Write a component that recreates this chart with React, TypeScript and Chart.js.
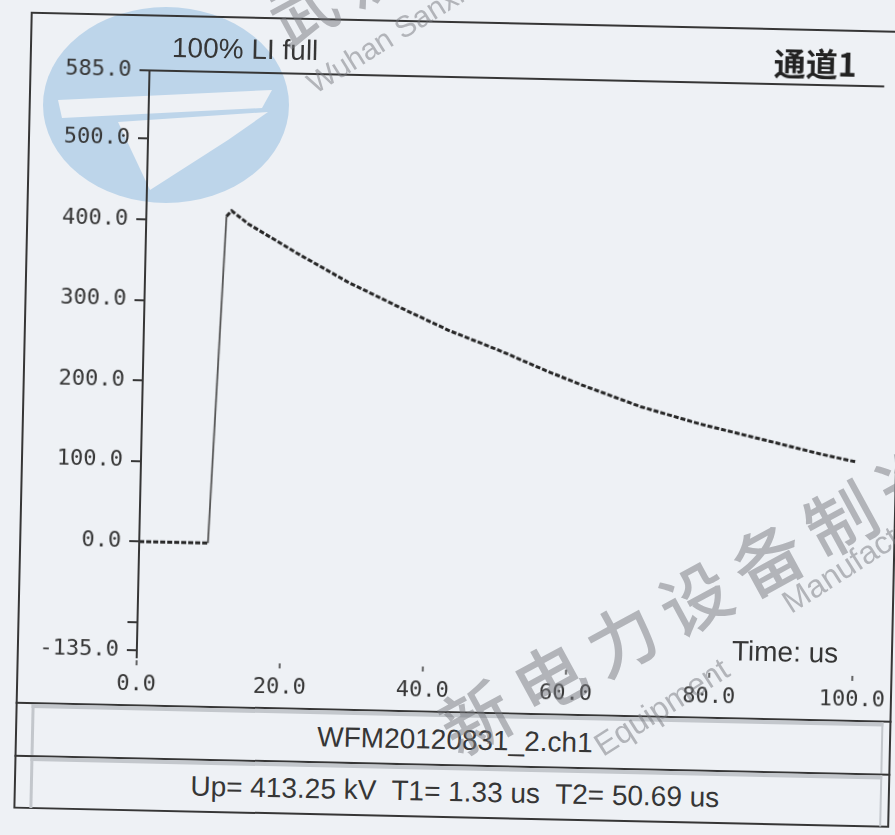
import { useEffect, useRef } from 'react';
import Chart from 'chart.js/auto';

// ── Data ──

const timeUs = [0, 9.6, 11.2, 11.9, 14.3, 21.4, 28.5, 35.6, 42.7, 49.7, 56.3, 61.1, 69.6, 78.0, 86.5, 94.9, 100];
const voltageKv = [0, 0, 406, 413, 397, 361, 327, 298, 270, 247, 223, 207, 181, 161, 144, 127, 118];

const yTicks = [585, 500, 400, 300, 200, 100, 0, -100, -135];
const yUnlabeled = [-100];
const xTicks = [0, 20, 40, 60, 80, 100];

const titleText = '100% LI full';
const channelText = '通道1';
const axisText = 'Time: us';
const fileText = 'WFM20120831_2.ch1';
const summaryText = 'Up= 413.25 kV  T1= 1.33 us  T2= 50.69 us';

const INK = '#363636';
const PAPER = '#eef1f5';
const SANS = '"Liberation Sans", Arial, sans-serif';
const MONO = '"DejaVu Sans Mono", monospace';
const CJK = '"Noto Sans CJK SC", sans-serif';

// ── Axis frame: top rule, extended y axis, short x tick marks ──

const framePlugin = {
  id: 'frame',
  afterDraw(chart: any) {
    const { ctx, chartArea: a, scales } = chart;
    ctx.save();
    ctx.strokeStyle = INK;
    ctx.lineWidth = 2;
    ctx.beginPath();
    ctx.moveTo(a.left, a.top);
    ctx.lineTo(a.right + 19, a.top);
    ctx.moveTo(a.left, a.top);
    ctx.lineTo(a.left, a.bottom + 8);
    ctx.stroke();
    ctx.lineWidth = 1.5;
    ctx.beginPath();
    xTicks.forEach((v) => {
      const px = scales.x.getPixelForValue(v);
      ctx.moveTo(px, a.bottom + 10);
      ctx.lineTo(px, a.bottom + 15);
    });
    ctx.stroke();
    ctx.restore();
  },
};

function ImpulseChart() {
  const canvasRef = useRef<HTMLCanvasElement>(null);

  useEffect(() => {
    if (!canvasRef.current) return;
    const isRise = (c: any) => c.p1.parsed.y - c.p0.parsed.y > 50;

    const chart = new Chart(canvasRef.current, {
      type: 'line',
      data: {
        datasets: [{
          data: timeUs.map((t, i) => ({ x: t, y: voltageKv[i] })),
          borderColor: '#262626',
          borderWidth: 3,
          pointRadius: 0,
          fill: false,
          tension: 0,
          segment: {
            borderDash: (c: any) => (isRise(c) ? [] : [5, 2]),
            borderWidth: (c: any) => (isRise(c) ? 1.8 : 3),
            borderColor: (c: any) => (isRise(c) ? '#555' : '#262626'),
          },
        }],
      },
      options: {
        animation: false,
        responsive: true,
        maintainAspectRatio: false,
        layout: { padding: { top: 77, right: 0, left: 0, bottom: 0 } },
        plugins: { legend: { display: false }, tooltip: { enabled: false } },
        scales: {
          x: {
            type: 'linear',
            min: 0,
            max: 100,
            afterBuildTicks: (s: any) => { s.ticks = xTicks.map((v) => ({ value: v })); },
            afterFit: (s: any) => { s.height = 54; },
            ticks: {
              callback: (v: any) => Number(v).toFixed(1),
              font: { family: MONO, size: 22 },
              color: INK,
              padding: 21,
              maxRotation: 0,
              autoSkip: false,
            },
            grid: { display: true, drawOnChartArea: false, drawTicks: false },
            border: { display: false },
          },
          y: {
            min: -135,
            max: 585,
            afterBuildTicks: (s: any) => { s.ticks = yTicks.map((v) => ({ value: v })); },
            afterFit: (s: any) => { s.width = 142; },
            ticks: {
              callback: (v: any) => (yUnlabeled.includes(Number(v)) ? '' : Number(v).toFixed(1)),
              font: { family: MONO, size: 22 },
              color: INK,
              padding: 8,
              autoSkip: false,
            },
            grid: { drawOnChartArea: false, drawTicks: true, tickLength: 10, color: INK, lineWidth: 2 },
            border: { display: false },
          },
        },
      },
      plugins: [framePlugin],
    });

    return () => chart.destroy();
  }, []);

  return <canvas ref={canvasRef} />;
}

// ── Watermark pieces of the photograph ──

function Mark({ text, left, top, size, angle, weight = 400, family = SANS, spacing = 0 }: {
  text: string; left: number; top: number; size: number; angle: number; weight?: number; family?: string; spacing?: number;
}) {
  return (
    <div style={{
      position: 'absolute', left, top, fontSize: size, lineHeight: 1, fontFamily: family, fontWeight: weight,
      color: 'rgba(118,120,126,0.5)', whiteSpace: 'nowrap', transform: `rotate(${angle}deg)`,
      transformOrigin: 'left center', pointerEvents: 'none', letterSpacing: spacing,
    }}>{text}</div>
  );
}

const panel = (top: number, height: number) => ({
  position: 'absolute' as const, left: 38, top, width: 852, height,
  borderTop: '4px solid #c3c7cc', borderLeft: '3px solid #c3c7cc', borderRight: '2px solid #c3c7cc',
  boxSizing: 'border-box' as const,
});

const rule = (top: number) => ({
  position: 'absolute' as const, left: 22, top, width: 876, height: 0, borderTop: `2px solid ${INK}`,
});

export default function App() {
  return (
    <div style={{ position: 'fixed', left: 0, top: 0, width: 895, height: 835, overflow: 'hidden', background: PAPER }}>
      <svg width={895} height={835} style={{ position: 'absolute', left: 0, top: 0 }}>
        <ellipse cx={166} cy={105} rx={123} ry={98} fill="#bdd5ea" />
        <polygon points="58,100 272,90 262,108 62,118" fill={PAPER} />
        <polygon points="118,122 268,112 228,140 150,190" fill={PAPER} />
        <ellipse cx={300} cy={935} rx={125} ry={100} fill="#bdd5ea" />
      </svg>

      <div style={{ position: 'absolute', left: 0, top: 0, width: 895, height: 835, transform: 'rotate(1.25deg)', transformOrigin: 'center' }}>
        <div style={{ position: 'absolute', left: 22, top: 21, width: 876, height: 797, border: `2px solid ${INK}`, boxSizing: 'border-box' }} />

        <div style={{ position: 'absolute', left: 0, top: 0, width: 912, height: 711 }}>
          <ImpulseChart />
        </div>

        <div style={{ position: 'absolute', left: 164, top: 40, fontFamily: SANS, fontSize: 28, lineHeight: 1, color: INK, whiteSpace: 'nowrap' }}>
          {titleText}
        </div>
        <div style={{ position: 'absolute', right: 46, top: 38, fontFamily: CJK, fontWeight: 700, fontSize: 32, lineHeight: 1, color: '#222' }}>
          {channelText}
        </div>
        <div style={{ position: 'absolute', left: 737, top: 631, fontFamily: SANS, fontSize: 28, lineHeight: 1, color: INK, whiteSpace: 'nowrap' }}>
          {axisText}
        </div>

        <div style={rule(711)} />
        <div style={panel(713, 51)} />
        <div style={rule(764)} />
        <div style={panel(766, 51)} />

        <div style={{ position: 'absolute', left: 462, top: 726, transform: 'translateX(-50%)', fontFamily: SANS, fontSize: 28, lineHeight: 1, color: INK, whiteSpace: 'nowrap' }}>
          {fileText}
        </div>
        <div style={{ position: 'absolute', left: 463, top: 778, transform: 'translateX(-50%)', fontFamily: SANS, fontSize: 28, lineHeight: 1, color: INK, whiteSpace: 'pre' }}>
          {summaryText}
        </div>
      </div>

      <Mark text="新电力设备制造" left={444} top={697} size={70} angle={-28.6} weight={500} family={CJK} spacing={13} />
      <Mark text="武汉三新" left={272} top={-11} size={66} angle={-28.6} weight={500} family={CJK} spacing={13} />
      <Mark text="Equipment" left={597} top={732} size={32} angle={-32.6} />
      <Mark text="Manufacturing" left={785} top={589} size={32} angle={-32.6} />
      <Mark text="Wuhan Sanxin" left={310} top={71} size={30} angle={-32} />
    </div>
  );
}
